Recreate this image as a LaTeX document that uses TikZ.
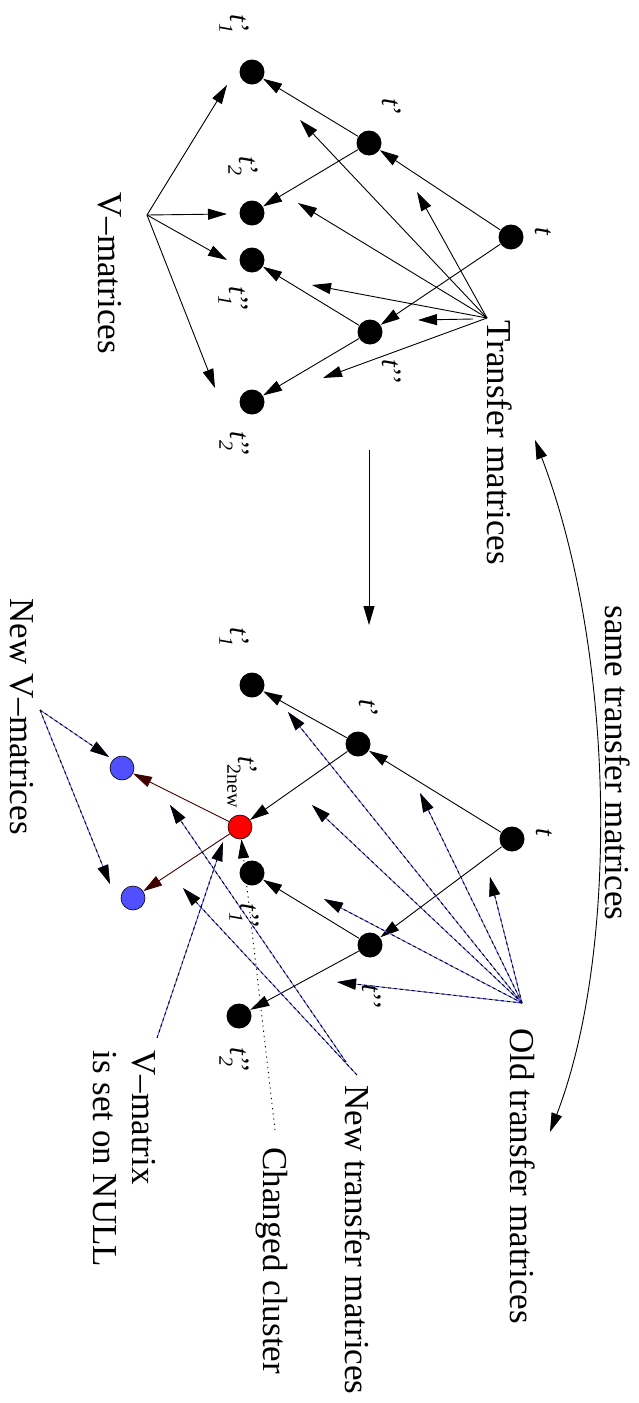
\documentclass[tikz,border=0pt]{standalone}
\usepackage{fontspec}
\setmainfont{Liberation Serif}
\usetikzlibrary{arrows.meta}
\definecolor{vblue}{RGB}{85,85,255}
\definecolor{nodeblue}{RGB}{80,80,255}
\definecolor{darkline}{RGB}{64,0,0}
% t with primes and a subscript set under the primes
\newcommand\tlab[2]{\textit{t}\rlap{#1}\raisebox{-0.38em}{\fontsize{20}{20}\selectfont\textit{#2}}}
\newcommand\tlabr[2]{\textit{t}\rlap{#1}\raisebox{-0.38em}{\fontsize{20}{20}\selectfont #2}}
\begin{document}
\begin{tikzpicture}[x=1pt,y=-1pt,
  line width=0.9pt,
  tip/.style={-{Triangle[length=19pt,width=11pt]}},
  dot/.style={circle,fill=black,inner sep=0pt,minimum size=25pt},
  rdot/.style={circle,draw=black,line width=0.6pt,fill=red,inner sep=0pt,minimum size=24pt},
  bdot/.style={circle,draw=black,line width=0.6pt,fill=nodeblue,inner sep=0pt,minimum size=24pt},
  lab/.style={rotate=-90,inner sep=0pt,font=\fontsize{28}{30}\selectfont},
  txt/.style={rotate=-90,anchor=base west,inner sep=0pt,font=\fontsize{35}{40}\selectfont},
  twotone/.style={draw=black,dash pattern=on 3pt off 3pt,
    preaction={draw=vblue,solid,line width=0.9pt}},
  redline/.style={draw=darkline},
  dotline/.style={dash pattern=on 1.2pt off 4pt}]
\useasboundingbox (0,0) rectangle (639,1403);

% ---------- upper cluster tree ----------
\node[dot] (T) at (511,237) {};
\node[dot] (Tp) at (369,143) {};
\node[dot] (Tp1) at (252,72) {};
\node[dot] (Tp2) at (252,213) {};
\node[dot] (Tpp) at (370,332) {};
\node[dot] (Tpp1) at (252,260) {};
\node[dot] (Tpp2) at (252,402) {};

\node[lab] (lT) at (543,232) {\textit{t}};
\node[lab] (lTp) at (392,107) {\textit{t}’};
\node[lab] (lTp1) at (234,24) {\tlab{’}{1}};
\node[lab] (lTp2) at (243,166) {\tlab{’}{2}};
\node[lab] (lTpp1) at (233,296) {\tlab{’’}{1}};
\node[lab] (lTpp) at (392,372) {\textit{t}’’};
\node[lab] (lTpp2) at (234,441) {\tlab{’’}{2}};

\draw[tip] (T) -- (Tp);
\draw[tip] (T) -- (Tpp);
\draw[tip] (Tp) -- (Tp1);
\draw[tip] (Tp) -- (Tp2);
\draw[tip] (Tpp) -- (Tpp1);
\draw[tip] (Tpp) -- (Tpp2);

% transfer matrices
\node[txt] (trans) at (487,320) {Transfer matrices};
\coordinate (ts) at (487,318);
\coordinate (ts2) at (473,319);
\coordinate (ta1) at (300,120);
\coordinate (ta2) at (417,192);
\coordinate (ta3) at (298,203);
\coordinate (ta4) at (312,285);
\coordinate (ta5) at (418,320);
\coordinate (ta6) at (323,378);
\foreach \e in {ta1,ta2,ta3,ta4,ta6} \draw[tip] (ts) -- (\e);
\draw[tip] (ts2) -- (ta5);

% V-matrices
\node[txt] (vmat) at (98,192) {V–matrices};
\coordinate (vs) at (147,215);
\coordinate (va1) at (227,85);
\coordinate (va2) at (227,214);
\coordinate (va3) at (227,260);
\coordinate (va4) at (215,388);
\foreach \e in {va1,va2,va3,va4} \draw[tip] (vs) -- (\e);

% step from the upper to the lower picture
\coordinate (m1) at (369,450);
\coordinate (m2) at (369,625);
\draw[tip] (m1) -- (m2);

% same transfer matrices
\coordinate (c1) at (535,440);
\coordinate (c2) at (550,1132);
\draw[{Triangle[length=19pt,width=11pt]}-{Triangle[length=19pt,width=11pt]}]
  (c1) .. controls (615,650) and (620,950) .. (c2);
\node[txt] (same) at (605,605) {same transfer matrices};

% ---------- lower cluster tree ----------
\node[dot] (B) at (512,839) {};
\node[dot] (Bp) at (358,744) {};
\node[dot] (Bp1) at (252,685) {};
\node[rdot] (Bp2) at (240,827) {};
\node[dot] (Bpp) at (370,945) {};
\node[dot] (Bpp1) at (252,873) {};
\node[dot] (Bpp2) at (239,1016) {};
\node[bdot] (V1) at (122,768) {};
\node[bdot] (V2) at (133,898) {};

\node[lab] (lB) at (544,833) {\textit{t}};
\node[lab] (lBp) at (369,708) {\textit{t}’};
\node[lab] (lBp1) at (234,637) {\tlab{’}{1}};
\node[lab] (lBp2) at (242,782) {\tlabr{’}{2new}};
\node[lab] (lBpp1) at (244,913) {\tlab{’’}{1}};
\node[lab] (lBpp) at (372,997) {\textit{t}’’};
\node[lab] (lBpp2) at (234,1057) {\tlab{’’}{2}};

\draw[tip] (B) -- (Bp);
\draw[tip] (B) -- (Bpp);
\draw[tip] (Bp) -- (Bp1);
\draw[tip] (Bp) -- (Bp2);
\draw[tip] (Bpp) -- (Bpp1);
\draw[tip] (Bpp) -- (Bpp2);
\draw[tip,redline] (Bp2) -- (V1);
\draw[tip,redline] (Bp2) -- (V2);

% old transfer matrices
\node[txt] (old) at (510,1028) {Old transfer matrices};
\coordinate (os) at (522,1003);
\coordinate (oa1) at (288,712);
\coordinate (oa2) at (420,793);
\coordinate (oa3) at (312,805);
\coordinate (oa4) at (324,899);
\coordinate (oa5) at (490,877);
\coordinate (oa6) at (337,982);
\foreach \e in {oa1,oa2,oa3,oa4,oa5,oa6} \draw[tip,twotone] (os) -- (\e);

% new transfer matrices
\node[txt] (new) at (345,1085) {New transfer matrices};
\coordinate (ns1) at (346,1062);
\coordinate (ns2) at (357,1075);
\coordinate (na1) at (170,805);
\coordinate (na2) at (183,888);
\draw[tip,twotone] (ns1) -- (na1);
\draw[tip,twotone] (ns2) -- (na2);

% changed cluster
\node[txt] (chg) at (263,1147) {Changed cluster};
\coordinate (cs) at (275,1130);
\draw[tip,dotline] (cs) -- (Bp2);

% V-matrix set on NULL
\node[txt] (vnull1) at (132,1050) {V–matrix};
\node[txt] (vnull2) at (93,1050) {is set on NULL};
\coordinate (vns) at (157,1038);
\coordinate (vna) at (223,842);
\draw[tip,twotone] (vns) -- (vna);

% new V-matrices
\node[txt] (newv) at (10,598) {New V–matrices};
\coordinate (nvs) at (40,710);
\coordinate (nva1) at (109,757);
\coordinate (nva2) at (110,884);
\draw[tip,twotone] (nvs) -- (nva1);
\draw[tip,twotone] (nvs) -- (nva2);
\end{tikzpicture}
\end{document}
